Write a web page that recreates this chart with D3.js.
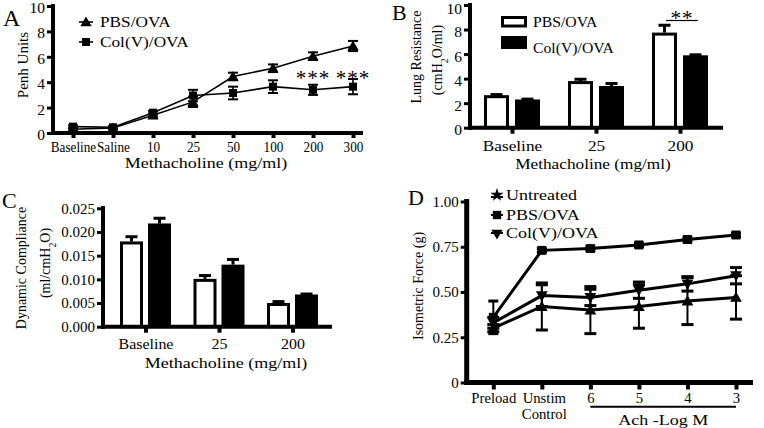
<!DOCTYPE html>
<html><head><meta charset="utf-8">
<script src="https://cdn.jsdelivr.net/npm/d3@7"></script>
<style>
body{margin:0;background:#fff}
svg{display:block}
text{font-family:"Liberation Serif","Times New Roman",serif;fill:#000}
</style>
</head><body>
<svg id="c" width="764" height="428"></svg>
<script>
// ---------- Panel A data ----------
const catsA = ["Baseline","Saline","10","25","50","100","200","300"];
const pbsA    = [0.30,0.40,1.40,2.45,4.45,5.10,6.05,6.85];
const pbsAerr = [0.10,0.10,0.15,0.40,0.30,0.30,0.30,0.40];
const colA    = [0.50,0.45,1.60,2.95,3.15,3.65,3.40,3.65];
const colAerr = [0.10,0.10,0.15,0.45,0.50,0.50,0.40,0.60];
const ticksA  = [0,2,4,6,8,10];
// ---------- Panel B data ----------
const catsB = ["Baseline","25","200"];
const pbsB    = [2.65,3.80,7.75];
const pbsBerr = [0.05,0.15,0.60];
const colB    = [2.30,3.40,5.90];
const colBerr = [0.03,0.20,0.04];
const ticksB  = [0,2,4,6,8,10];
// ---------- Panel C data ----------
const catsC = ["Baseline","25","200"];
const pbsC    = [0.0180,0.0101,0.0050];
const pbsCerr = [0.0010,0.0007,0.0003];
const colC    = [0.0218,0.0131,0.0068];
const colCerr = [0.0011,0.0011,0.0001];
const ticksC  = [0,0.005,0.010,0.015,0.020,0.025];
// ---------- Panel D data ----------
const catsD = ["Preload","Unstim","6","5","4","3"];
const untD    = [0.30,0.42,0.40,0.42,0.45,0.47];
const untDerr = [0.02,0.13,0.13,0.12,0.13,0.12];
const pbsD    = [0.36,0.73,0.74,0.76,0.79,0.815];
const pbsDerr = [0.09,0.01,0.01,0.01,0.01,0.01];
const colD    = [0.33,0.48,0.47,0.51,0.545,0.59];
const colDerr = [0.03,0.06,0.045,0.045,0.04,0.045];
const ticksD  = [0,0.25,0.5,0.75,1.0];

const svg = d3.select("#c");

function txt(x,y,s,o={}){
  const t = svg.append("text")
    .attr("transform",`translate(${x},${y})${o.rot?` rotate(${o.rot})`:""} scale(${o.sx||1},1)`)
    .attr("text-anchor",o.anchor||"middle")
    .attr("font-size",o.size||15)
    .attr("dy",o.dy===undefined?"0.35em":o.dy);
  if(o.ls) t.attr("letter-spacing",o.ls);
  if(o.parts){
    o.parts.forEach(p=>{
      const ts=t.append("tspan").text(p[0]);
      if(p[1]==="sub") ts.attr("font-size",(o.size||15)*0.7).attr("baseline-shift","sub");
    });
  } else t.text(s);
  return t;
}
function line(x1,y1,x2,y2,w){
  svg.append("line").attr("x1",x1).attr("y1",y1).attr("x2",x2).attr("y2",y2)
    .attr("stroke","#000").attr("stroke-width",w);
}
function styleAxis(g,o){
  g.select(".domain").remove();
  g.selectAll(".tick line").attr("stroke","#000").attr("stroke-width",o.tw);
  g.selectAll(".tick text").attr("font-family",'"Liberation Serif","Times New Roman",serif')
    .attr("font-size",o.fs||15).attr("fill","#000");
  if(o.dy) g.selectAll(".tick text").attr("dy",o.dy);
  if(o.sx) g.selectAll(".tick text").attr("transform",`scale(${o.sx},1)`);
  if(o.ty!==undefined) g.selectAll(".tick text").attr("y",o.ty).attr("dy","0");
}
const sym = (type,size)=>d3.symbol().type(type).size(size)();

// =============== Panel A ===============
const xA = d3.scalePoint().domain(catsA).range([73,353]);
const yA = d3.scaleLinear().domain([0,10]).range([133,6]);
const gAy = svg.append("g").attr("transform","translate(53,0)")
  .call(d3.axisLeft(yA).tickValues(ticksA).tickSize(6).tickPadding(2).tickFormat(d3.format("d")));
styleAxis(gAy,{tw:3,fs:15.5,dy:"0.42em"});
const gAx = svg.append("g").attr("transform","translate(0,133)")
  .call(d3.axisBottom(xA).tickSize(5));
styleAxis(gAx,{tw:4,fs:15,sx:0.88,ty:19});
line(53,4,53,135,4);
line(51,133,363,133,4);
const lgA = d3.line().x((d,i)=>xA(catsA[i])).y(d=>yA(d));
svg.append("path").attr("d",lgA(pbsA)).attr("fill","none").attr("stroke","#000").attr("stroke-width",1.6);
svg.append("path").attr("d",lgA(colA)).attr("fill","none").attr("stroke","#000").attr("stroke-width",1.6);
function errA(vals,errs){
  vals.forEach((v,i)=>{
    const x=xA(catsA[i]);
    line(x,yA(v-errs[i]),x,yA(v+errs[i]),1.6);
    line(x-5,yA(v+errs[i]),x+5,yA(v+errs[i]),2);
    line(x-5,yA(v-errs[i]),x+5,yA(v-errs[i]),2);
  });
}
errA(pbsA,pbsAerr); errA(colA,colAerr);
svg.append("g").selectAll("path").data(pbsA).join("path")
  .attr("d",sym(d3.symbolTriangle,55))
  .attr("transform",(d,i)=>`translate(${xA(catsA[i])},${yA(d)+1})`);
svg.append("g").selectAll("path").data(colA).join("path")
  .attr("d",sym(d3.symbolSquare,64))
  .attr("transform",(d,i)=>`translate(${xA(catsA[i])},${yA(d)})`);
txt(xA("200"),yA(4.65)+11,"***",{size:21,dy:0,ls:1});
txt(xA("300"),yA(4.65)+11,"***",{size:21,dy:0,ls:1});
line(79,22,93,22,1.6);
svg.append("path").attr("d",sym(d3.symbolTriangle,55)).attr("transform","translate(86,23)");
txt(100,22,"PBS/OVA",{anchor:"start",size:15,sx:1.15});
line(79,42,93,42,1.6);
svg.append("path").attr("d",sym(d3.symbolSquare,64)).attr("transform","translate(86,42)");
txt(100,42,"Col(V)/OVA",{anchor:"start",size:15,sx:1.15});
txt(206,168,"Methacholine (mg/ml)",{size:15,sx:1.2,dy:0});
txt(23,65,"Penh Units",{size:15,rot:-90});
txt(3,26,"A",{size:24,anchor:"start",dy:0});

// =============== Panel B ===============
const xB = d3.scalePoint().domain(catsB).range([512,680]);
const yB = d3.scaleLinear().domain([0,10]).range([127.7,5]);
const gBy = svg.append("g").attr("transform","translate(470,0)")
  .call(d3.axisLeft(yB).tickValues(ticksB).tickSize(6).tickPadding(2).tickFormat(d3.format("d")));
styleAxis(gBy,{tw:3,fs:15.5,dy:"0.45em"});
gBy.selectAll(".tick text").filter(d=>d===10).attr("dy","0.55em");
const gBx = svg.append("g").attr("transform","translate(0,127.7)")
  .call(d3.axisBottom(xB).tickSize(6));
styleAxis(gBx,{tw:4,fs:15,sx:1.15,ty:23.5});
catsB.forEach((c,i)=>{
  const cx=xB(c);
  svg.append("rect").attr("x",cx-28+1.5).attr("width",22)
    .attr("y",yB(pbsB[i])+1.5).attr("height",yB(0)-yB(pbsB[i])-1.5)
    .attr("fill","#fff").attr("stroke","#000").attr("stroke-width",3);
  line(cx-15.5,yB(pbsB[i]),cx-15.5,yB(pbsB[i]+pbsBerr[i]),3);
  line(cx-21.5,yB(pbsB[i]+pbsBerr[i]),cx-9.5,yB(pbsB[i]+pbsBerr[i]),3);
  svg.append("rect").attr("x",cx+3).attr("width",25)
    .attr("y",yB(colB[i])).attr("height",yB(0)-yB(colB[i])).attr("fill","#000");
  line(cx+15.5,yB(colB[i]),cx+15.5,yB(colB[i]+colBerr[i]),3);
  line(cx+9.5,yB(colB[i]+colBerr[i]),cx+21.5,yB(colB[i]+colBerr[i]),3);
});
line(470,3,470,129.7,4);
line(468,127.7,723,127.7,4);
line(666,20.5,698,20.5,1.2);
txt(682,25,"**",{size:21,dy:0,ls:1});
svg.append("rect").attr("x",502.5).attr("y",17.5).attr("width",23).attr("height",8.5)
  .attr("fill","#fff").attr("stroke","#000").attr("stroke-width",3);
svg.append("rect").attr("x",501).attr("y",36).attr("width",26).attr("height",13).attr("fill","#000");
txt(533,22,"PBS/OVA",{anchor:"start",size:15,sx:1.05});
txt(533,48,"Col(V)/OVA",{anchor:"start",size:15,sx:1.05});
txt(593,168.5,"Methacholine (mg/ml)",{size:15,sx:1.15,dy:0});
txt(416,57,"Lung Resistance",{size:14,rot:-90});
txt(437,60,null,{size:14,rot:-90,parts:[["(cmH"],["2","sub"],["O/ml)"]]});
txt(392,20,"B",{size:22,anchor:"start",dy:0});

// =============== Panel C ===============
const xC = d3.scalePoint().domain(catsC).range([145.5,292.5]);
const yC = d3.scaleLinear().domain([0,0.025]).range([326.7,208.3]);
const gCy = svg.append("g").attr("transform","translate(103,0)")
  .call(d3.axisLeft(yC).tickValues(ticksC).tickSize(6).tickPadding(2).tickFormat(d3.format(".3f")));
styleAxis(gCy,{tw:3,fs:15});
const gCx = svg.append("g").attr("transform","translate(0,326.7)")
  .call(d3.axisBottom(xC).tickSize(6));
styleAxis(gCx,{tw:4,fs:14,sx:1.14,ty:22});
catsC.forEach((c,i)=>{
  const cx=xC(c);
  svg.append("rect").attr("x",cx-25.5+1.5).attr("width",20)
    .attr("y",yC(pbsC[i])+1.5).attr("height",yC(0)-yC(pbsC[i])-1.5)
    .attr("fill","#fff").attr("stroke","#000").attr("stroke-width",3);
  line(cx-14,yC(pbsC[i]),cx-14,yC(pbsC[i]+pbsCerr[i]),3);
  line(cx-20,yC(pbsC[i]+pbsCerr[i]),cx-8,yC(pbsC[i]+pbsCerr[i]),3);
  svg.append("rect").attr("x",cx+2.5).attr("width",23)
    .attr("y",yC(colC[i])).attr("height",yC(0)-yC(colC[i])).attr("fill","#000");
  line(cx+14,yC(colC[i]),cx+14,yC(colC[i]+colCerr[i]),3);
  line(cx+8,yC(colC[i]+colCerr[i]),cx+20,yC(colC[i]+colCerr[i]),3);
});
line(103,206,103,328.7,4);
line(101,326.7,332,326.7,4);
txt(226,367.5,"Methacholine (mg/ml)",{size:15,sx:1.2,dy:0});
txt(21,268,"Dynamic Compliance",{size:14,rot:-90});
txt(45,263,null,{size:14,rot:-90,parts:[["(ml/cmH"],["2","sub"],["O)"]]});
txt(2,208,"C",{size:22,anchor:"start",dy:0});

// =============== Panel D ===============
const xD = d3.scalePoint().domain(catsD).range([493.3,736]);
const yD = d3.scaleLinear().domain([0,1]).range([382.5,201.5]);
const gDy = svg.append("g").attr("transform","translate(466.7,0)")
  .call(d3.axisLeft(yD).tickValues(ticksD).tickSize(6).tickPadding(2).tickFormat(d=>d===0?"0":d3.format(".2f")(d)));
styleAxis(gDy,{tw:3,fs:15});
const gDx = svg.append("g").attr("transform","translate(0,382.5)")
  .call(d3.axisBottom(xD).tickSize(7));
styleAxis(gDx,{tw:4,fs:15,sx:0.98,ty:21});
gDx.selectAll(".tick text").each(function(d){
  if(d==="Unstim"){
    const t=d3.select(this); t.text(null);
    t.append("tspan").attr("x",2).text("Unstim");
    t.append("tspan").attr("x",2).attr("dy",16).text("Control");
  }
});
const lgD = d3.line().x((d,i)=>xD(catsD[i])).y(d=>yD(d));
function errD(vals,errs,w){
  vals.forEach((v,i)=>{
    const x=xD(catsD[i]);
    line(x,yD(v-errs[i]),x,yD(v+errs[i]),2);
    line(x-w,yD(v+errs[i]),x+w,yD(v+errs[i]),3);
    line(x-w,yD(v-errs[i]),x+w,yD(v-errs[i]),3);
  });
}
[untD,pbsD,colD].forEach(s=>{
  svg.append("path").attr("d",lgD(s)).attr("fill","none").attr("stroke","#000").attr("stroke-width",3);
});
errD(untD,untDerr,6); errD(pbsD,pbsDerr,5); errD(colD,colDerr,6);
svg.append("g").selectAll("path").data(untD).join("path")
  .attr("d",sym(d3.symbolTriangle,60))
  .attr("transform",(d,i)=>`translate(${xD(catsD[i])},${yD(d)+1})`);
svg.append("g").selectAll("path").data(pbsD).join("path")
  .attr("d",sym(d3.symbolSquare,80))
  .attr("transform",(d,i)=>`translate(${xD(catsD[i])},${yD(d)})`);
svg.append("g").selectAll("path").data(colD).join("path")
  .attr("d",sym(d3.symbolTriangle,60))
  .attr("transform",(d,i)=>`translate(${xD(catsD[i])},${yD(d)-1}) rotate(180)`);
line(466.7,199,466.7,385,5);
line(464,382.5,753,382.5,5);
line(xD("6"),406.7,xD("3"),406.7,2);
txt((xD("6")+xD("3"))/2,425,"Ach -Log M",{size:15,sx:1.2,dy:0});
svg.append("path").attr("d",sym(d3.symbolStar,55)).attr("transform","translate(497,195)");
line(491,197,503,197,2);
svg.append("path").attr("d",sym(d3.symbolSquare,70)).attr("transform","translate(497,215)");
line(491,215,503,215,2);
svg.append("path").attr("d",sym(d3.symbolTriangle,55)).attr("transform","translate(497,233) rotate(180)");
line(491,233,503,233,2);
txt(506,195,"Untreated",{anchor:"start",size:15,sx:1.2});
txt(506,215,"PBS/OVA",{anchor:"start",size:15,sx:1.2});
txt(506,233,"Col(V)/OVA",{anchor:"start",size:15,sx:1.2});
txt(418,286,"Isometric Force (g)",{size:14,rot:-90});
txt(408,205,"D",{size:22,anchor:"start",dy:0});
</script>
</body></html>
